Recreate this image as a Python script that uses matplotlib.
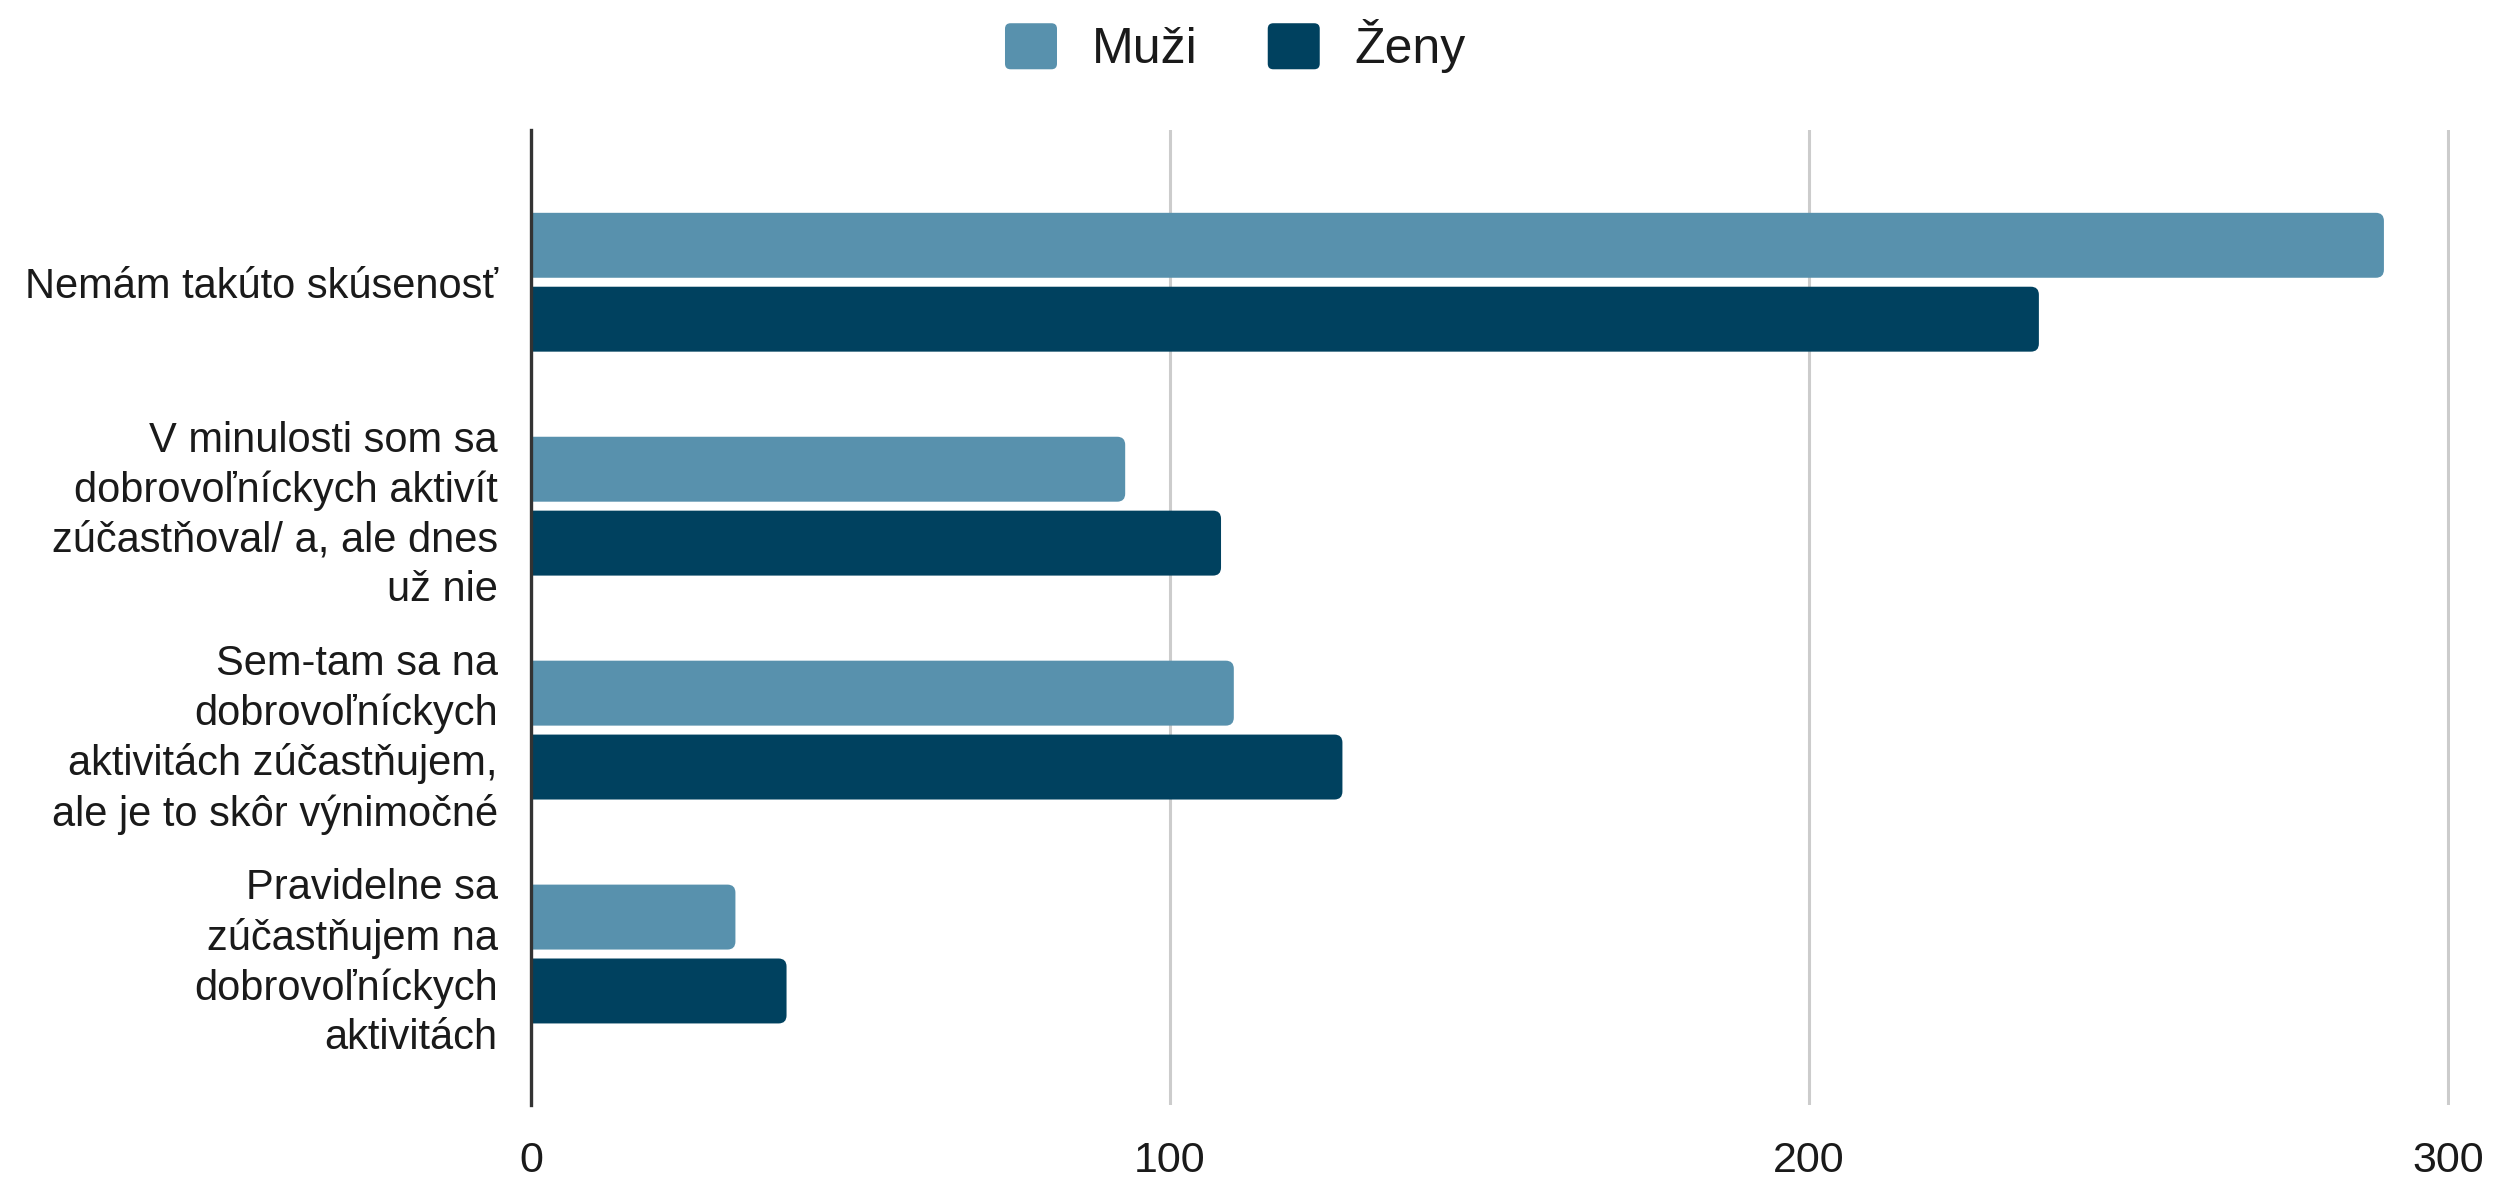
import matplotlib
matplotlib.use("Agg")
import matplotlib.pyplot as plt
from matplotlib.patches import FancyBboxPatch, Patch
from matplotlib.legend_handler import HandlerPatch
import numpy as np

plt.rcParams['font.family'] = ['Liberation Sans', 'DejaVu Sans']

categories = [
    "Nemám takúto skúsenosť",
    "V minulosti som sa\ndobrovoľníckych aktivít\nzúčastňoval/ a, ale dnes\nuž nie",
    "Sem-tam sa na\ndobrovoľníckych\naktivitách zúčastňujem,\nale je to skôr výnimočné",
    "Pravidelne sa\nzúčastňujem na\ndobrovoľníckych\naktivitách",
]
series_names = ["Muži", "Ženy"]
muzi = [290, 93, 110, 32]
zeny = [236, 108, 127, 40]
x_ticks = [0, 100, 200, 300]

colors = ["#5891ad", "#00415f"]
text_color = "#1a1a1a"

fig = plt.figure(figsize=(25.01, 11.88), dpi=100)
ax = fig.add_axes([0.2123, 0.0699, 0.7672, 0.8207])

y = np.arange(len(categories))
bar_h = 0.29
offset = 0.165

bars_m = ax.barh(y - offset, muzi, height=bar_h, color=colors[0], zorder=3)
bars_z = ax.barh(y + offset, zeny, height=bar_h, color=colors[1], zorder=3)

ax.set_xlim(0, 300.3)
ax.set_ylim(3.674, -0.68)

# rounded bar ends: radius given in x-units, aspect converts to y-units
r_x = 1.25
aspect = 0.036 / r_x
for bars, col in ((bars_m, colors[0]), (bars_z, colors[1])):
    for rect in bars:
        x0, y0 = rect.get_x(), rect.get_y()
        w, h = rect.get_width(), rect.get_height()
        rect.set_visible(False)
        p = FancyBboxPatch((x0 - 3 * r_x, y0), w + 3 * r_x, h,
                           boxstyle=f"round,pad=0,rounding_size={r_x}",
                           mutation_aspect=aspect, facecolor=col,
                           edgecolor="none", zorder=3)
        p.set_clip_path(ax.patch)
        ax.add_patch(p)

ax.set_yticks(y)
ax.set_yticklabels(categories, fontsize=30, color=text_color, linespacing=1.3)
ax.set_xticks(x_ticks)
ax.set_xticklabels([str(t) for t in x_ticks], fontsize=31, color=text_color)
ax.tick_params(axis="y", length=0, pad=24)
ax.tick_params(axis="x", length=0, pad=26)

ax.grid(axis="x", color="#cccccc", linewidth=2.2, zorder=0)
ax.grid(axis="y", visible=False)
for s in ("top", "right", "bottom"):
    ax.spines[s].set_visible(False)
ax.spines["left"].set_color("#333333")
ax.spines["left"].set_linewidth(2.4)
ax.spines["left"].set_zorder(4)


def rounded_handle(legend, orig_handle, xdescent, ydescent, width, height, fontsize):
    return FancyBboxPatch((-xdescent, -ydescent), width, height,
                          boxstyle=f"round,pad=0,rounding_size={0.12 * height}")


handles = [Patch(facecolor=c, edgecolor="none") for c in colors]
fig.legend(handles, series_names, loc="center", bbox_to_anchor=(0.494, 0.961),
           ncol=2, frameon=False, fontsize=36, handlelength=1.04,
           handleheight=1.04, handletextpad=0.7, columnspacing=1.4,
           labelcolor=text_color,
           handler_map={Patch: HandlerPatch(patch_func=rounded_handle)})

fig.savefig("out.png", dpi=100, facecolor="white")
